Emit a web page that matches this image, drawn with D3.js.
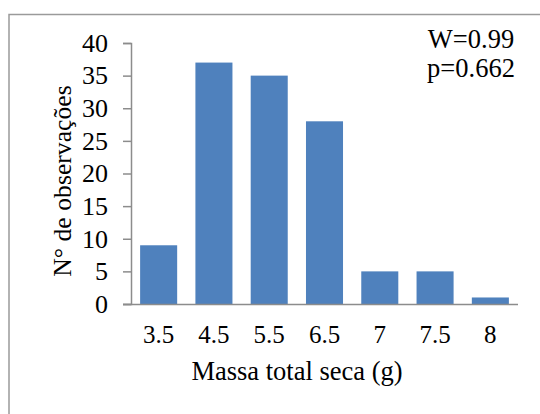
<!DOCTYPE html>
<html><head><meta charset="utf-8">
<script src="https://cdn.jsdelivr.net/npm/d3@7"></script>
<style>body{margin:0;background:#fff}svg text{font-family:"Liberation Serif","Times New Roman",serif;fill:#000}</style>
</head><body><svg id="c" width="540" height="414"></svg>
<script>
const categories = ["3.5","4.5","5.5","6.5","7","7.5","8"];
const counts = [9,37,35,28,5,5,1];
const yTicks = [0,5,10,15,20,25,30,35,40];
const statsText = ["W=0.99","p=0.662"];
const xTitle = "Massa total seca (g)";
const yTitle = "N° de observações";

(function(){
const svg = d3.select("#c");
svg.append("rect").attr("x",9).attr("y",14.5).attr("width",600).attr("height",500)
  .attr("fill","#fff").attr("stroke","#9a9a9a").attr("stroke-width",1.5);

const pLeft=131, pRight=518, pTop=43, pBottom=304;
const x = d3.scaleBand().domain(categories).range([pLeft,pRight]).paddingInner(0.33).paddingOuter(0.165);
const y = d3.scaleLinear().domain([0,40]).range([pBottom,pTop]);

svg.selectAll("rect.bar").data(counts).enter().append("rect").attr("class","bar")
  .attr("x",(d,i)=>x(categories[i])).attr("width",x.bandwidth())
  .attr("y",d=>y(d)).attr("height",d=>y(0)-y(d)).attr("fill","#4F81BD");

const ya = svg.append("g").attr("transform",`translate(${pLeft},0)`)
  .call(d3.axisLeft(y).tickValues(yTicks).tickSize(8).tickPadding(15));
ya.selectAll("text").style("font-size","26px");
const xa = svg.append("g").attr("transform",`translate(0,${pBottom})`)
  .call(d3.axisBottom(x).tickSize(0).tickPadding(21));
xa.selectAll("text").style("font-size","25px");
xa.select(".domain").attr("d",`M${pLeft-8},0.5H${pRight}`);
svg.selectAll(".domain,.tick line").attr("stroke","#8c8c8c").attr("stroke-width",1.5);

svg.append("text").attr("x",297).attr("y",380).attr("text-anchor","middle")
  .style("font-size","26.5px").text(xTitle);
svg.append("text").attr("transform","translate(71,181) rotate(-90)").attr("text-anchor","middle")
  .style("font-size","25.7px").text(yTitle);
svg.selectAll("text.stat").data(statsText).enter().append("text").attr("class","stat")
  .attr("x",471).attr("y",(d,i)=>48+i*29).attr("text-anchor","middle")
  .style("font-size","26.5px").text(d=>d);
})();
</script></body></html>
